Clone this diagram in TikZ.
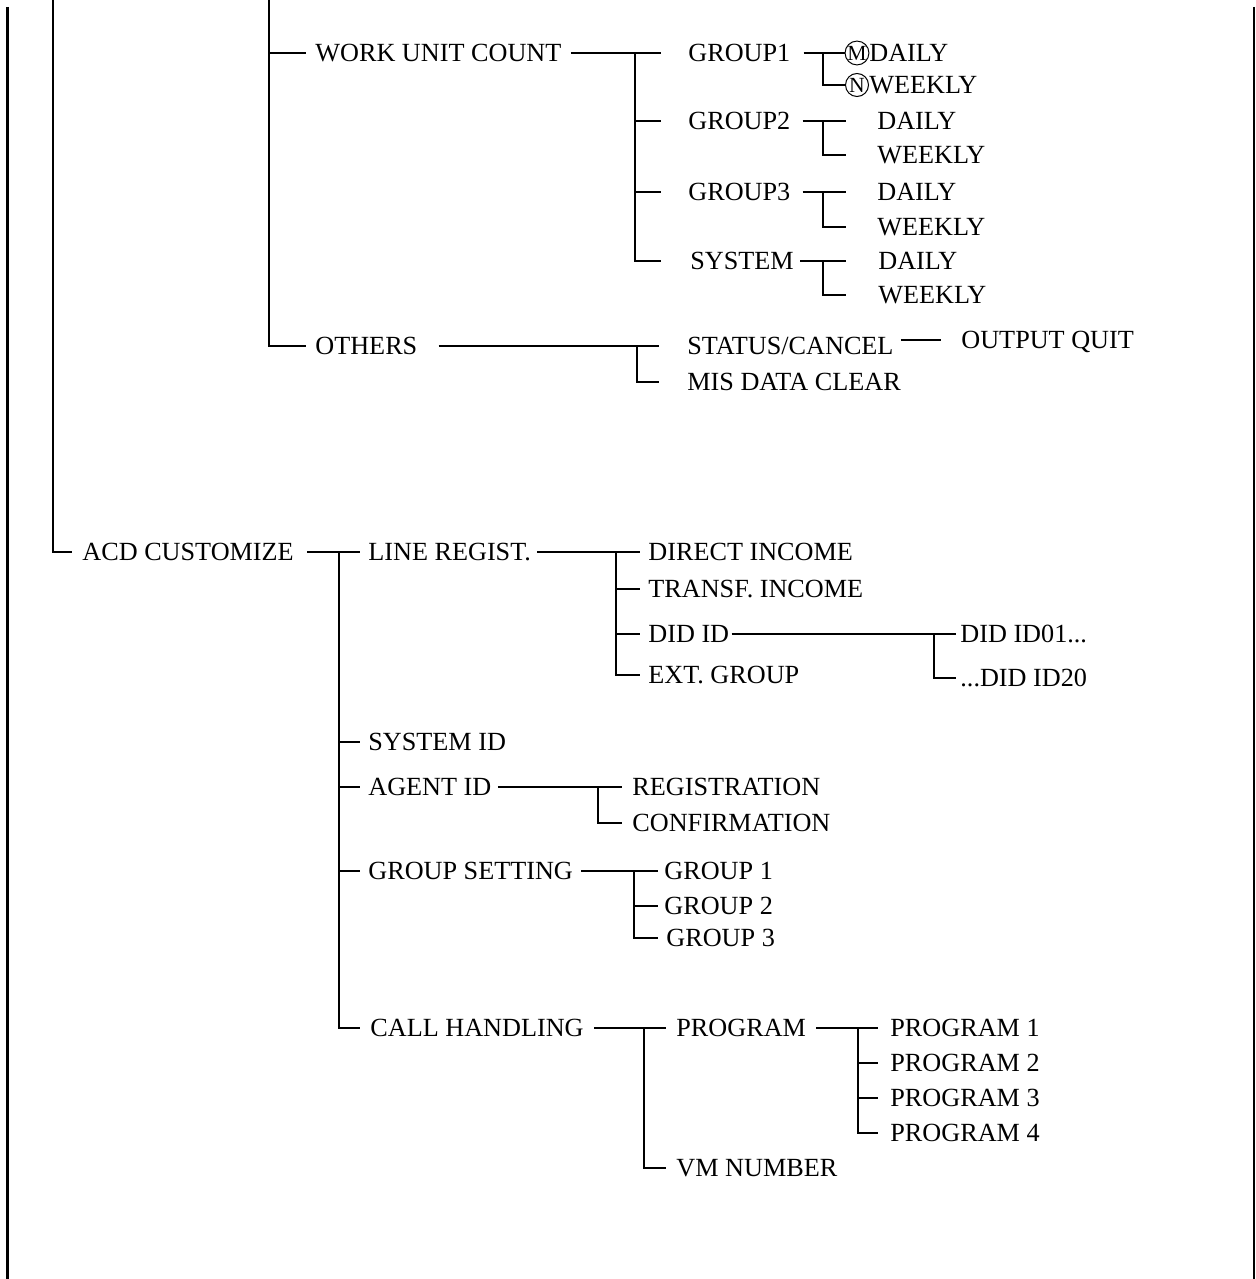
\documentclass[tikz,border=0pt]{standalone}
\usepackage{fontspec}
\setmainfont{Liberation Serif}
\usepackage{tikz}
\usetikzlibrary{calc}
\tikzset{
  lbl/.style={anchor=west, inner sep=0pt, text height=8.6pt, text depth=0pt,
    font=\fontsize{13.1pt}{15pt}\selectfont},
  circ/.style={circle, draw, inner sep=0pt, minimum size=11.5pt, line width=0.5pt,
    font=\fontsize{10.8pt}{11pt}\selectfont},
  ln/.style={line width=1pt},
  leftbar/.style={line width=1.5pt},
  rightbar/.style={line width=0.65pt}
}

\begin{document}
\begin{tikzpicture}[x=0.5pt, y=-0.5pt]
  \useasboundingbox (0,0) rectangle (1255,1279);

  % Outer bars
  \coordinate (lt) at (7,7);
  \coordinate (lb) at (7,1279);
  \coordinate (rt) at (1254,7);
  \coordinate (rb) at (1254,1279);
  \draw[leftbar] (lt) -- (lb);
  \draw[rightbar] (rt) -- (rb);
  \coordinate (top2) at (53,0);
  \coordinate (top3) at (269,0);

  % Work unit count
  \node[lbl] (wuc) at (315,53) {WORK UNIT COUNT};
  \node[lbl] (g1) at (688,53) {GROUP1};
  \node[lbl] (g2) at (688,121) {GROUP2};
  \node[lbl] (g3) at (688,192) {GROUP3};
  \node[lbl] (sys) at (690,261) {SYSTEM};
  \node[circ] (m1) at (857,53) {M};
  \node[circ] (n1) at (857,85) {N};
  \node[lbl] (d1) at (869,53) {DAILY};
  \node[lbl] (w1) at (869,85) {WEEKLY};
  \node[lbl] (d2) at (877,121) {DAILY};
  \node[lbl] (w2) at (877,155) {WEEKLY};
  \node[lbl] (d3) at (877,192) {DAILY};
  \node[lbl] (w3) at (877,227) {WEEKLY};
  \node[lbl] (d4) at (878,261) {DAILY};
  \node[lbl] (w4) at (878,295) {WEEKLY};
  \coordinate (jw) at (635,0);
  \coordinate (tw) at (661,0);
  \coordinate (jg) at (823,0);
  \coordinate (tg) at (846,0);
  \draw[ln] (top3 |- wuc) -- ($(wuc.west)+(-9,0)$);
  \draw[ln] ($(wuc.east)+(9,0)$) -- (tw |- wuc);
  \draw[ln] (jw |- wuc) |- (tw |- sys);
  \draw[ln] (jw |- g2) -- (tw |- g2);
  \draw[ln] (jw |- g3) -- (tw |- g3);
  \draw[ln] ($(g1.east)+(13,0)$) -- (m1.west);
  \draw[ln] (jg |- g1) |- (n1.west);
  \draw[ln] ($(g2.east)+(12,0)$) -- (tg |- g2);
  \draw[ln] (jg |- g2) |- (tg |- w2);
  \draw[ln] ($(g3.east)+(12,0)$) -- (tg |- g3);
  \draw[ln] (jg |- g3) |- (tg |- w3);
  \draw[ln] ($(sys.east)+(6,0)$) -- (tg |- sys);
  \draw[ln] (jg |- sys) |- (tg |- w4);

  % Others
  \node[lbl] (oth) at (315,346) {OTHERS};
  \node[lbl] (stc) at (687,346) {STATUS/CANCEL};
  \node[lbl] (mis) at (687,382) {MIS DATA CLEAR};
  \node[lbl] (oq) at (961,340) {OUTPUT QUIT};
  \coordinate (jo) at (637,0);
  \coordinate (to) at (659,0);
  \draw[ln] (top3) |- ($(oth.west)+(-9,0)$);
  \draw[ln] ($(oth.east)+(21,0)$) -- (to |- oth);
  \draw[ln] (jo |- oth) |- (to |- mis);
  \draw[ln] ($(stc.east |- oq)+(7,0)$) -- ($(oq.west)+(-20,0)$);

  % ACD customize
  \node[lbl] (acd) at (82,552) {ACD CUSTOMIZE};
  \node[lbl] (lr) at (368,552) {LINE REGIST.};
  \node[lbl] (sid) at (368,742) {SYSTEM ID};
  \node[lbl] (aid) at (368,787) {AGENT ID};
  \node[lbl] (gs) at (368,871) {GROUP SETTING};
  \node[lbl] (ch) at (370,1028) {CALL HANDLING};
  \coordinate (ja) at (339,0);
  \coordinate (ta) at (360,0);
  \draw[ln] (top2) |- ($(acd.west)+(-10,0)$);
  \draw[ln] ($(acd.east)+(13,0)$) -- (ta |- acd);
  \draw[ln] (ja |- acd) |- (ta |- ch);
  \draw[ln] (ja |- sid) -- (ta |- sid);
  \draw[ln] (ja |- aid) -- (ta |- aid);
  \draw[ln] (ja |- gs) -- (ta |- gs);

  % Line regist.
  \node[lbl] (di) at (648,552) {DIRECT INCOME};
  \node[lbl] (ti) at (648,589) {TRANSF. INCOME};
  \node[lbl] (did) at (648,634) {DID ID};
  \node[lbl] (ext) at (648,675) {EXT. GROUP};
  \node[lbl] (id1) at (960,634) {DID ID01...};
  \node[lbl] (id20) at (960,678) {...DID ID20};
  \coordinate (jl) at (616,0);
  \coordinate (tl) at (640,0);
  \coordinate (jd) at (934,0);
  \coordinate (td) at (956,0);
  \draw[ln] ($(lr.east)+(6,0)$) -- (tl |- lr);
  \draw[ln] (jl |- lr) |- (tl |- ext);
  \draw[ln] (jl |- ti) -- (tl |- ti);
  \draw[ln] (jl |- did) -- (tl |- did);
  \draw[ln] ($(did.east)+(2,0)$) -- (td |- did);
  \draw[ln] (jd |- did) |- (td |- id20);

  % Agent ID
  \node[lbl] (reg) at (632,787) {REGISTRATION};
  \node[lbl] (conf) at (632,823) {CONFIRMATION};
  \coordinate (jg2) at (598,0);
  \coordinate (tg2) at (622,0);
  \draw[ln] ($(aid.east)+(6,0)$) -- (tg2 |- aid);
  \draw[ln] (jg2 |- aid) |- (tg2 |- conf);

  % Group setting
  \node[lbl] (gp1) at (664,871) {GROUP 1};
  \node[lbl] (gp2) at (664,906) {GROUP 2};
  \node[lbl] (gp3) at (666,938) {GROUP 3};
  \coordinate (js) at (634,0);
  \coordinate (ts) at (658,0);
  \draw[ln] ($(gs.east)+(8,0)$) -- (ts |- gs);
  \draw[ln] (js |- gs) |- (ts |- gp3);
  \draw[ln] (js |- gp2) -- (ts |- gp2);

  % Call handling
  \node[lbl] (prg) at (676,1028) {PROGRAM};
  \node[lbl] (vm) at (676,1168) {VM NUMBER};
  \node[lbl] (p1) at (890,1028) {PROGRAM 1};
  \node[lbl] (p2) at (890,1063) {PROGRAM 2};
  \node[lbl] (p3) at (890,1098) {PROGRAM 3};
  \node[lbl] (p4) at (890,1133) {PROGRAM 4};
  \coordinate (jc) at (644,0);
  \coordinate (tc) at (666,0);
  \coordinate (jp) at (858,0);
  \coordinate (tp) at (878,0);
  \draw[ln] ($(ch.east)+(10,0)$) -- (tc |- ch);
  \draw[ln] (jc |- ch) |- (tc |- vm);
  \draw[ln] ($(prg.east)+(10,0)$) -- (tp |- prg);
  \draw[ln] (jp |- prg) |- (tp |- p4);
  \draw[ln] (jp |- p2) -- (tp |- p2);
  \draw[ln] (jp |- p3) -- (tp |- p3);
\end{tikzpicture}
\end{document}
